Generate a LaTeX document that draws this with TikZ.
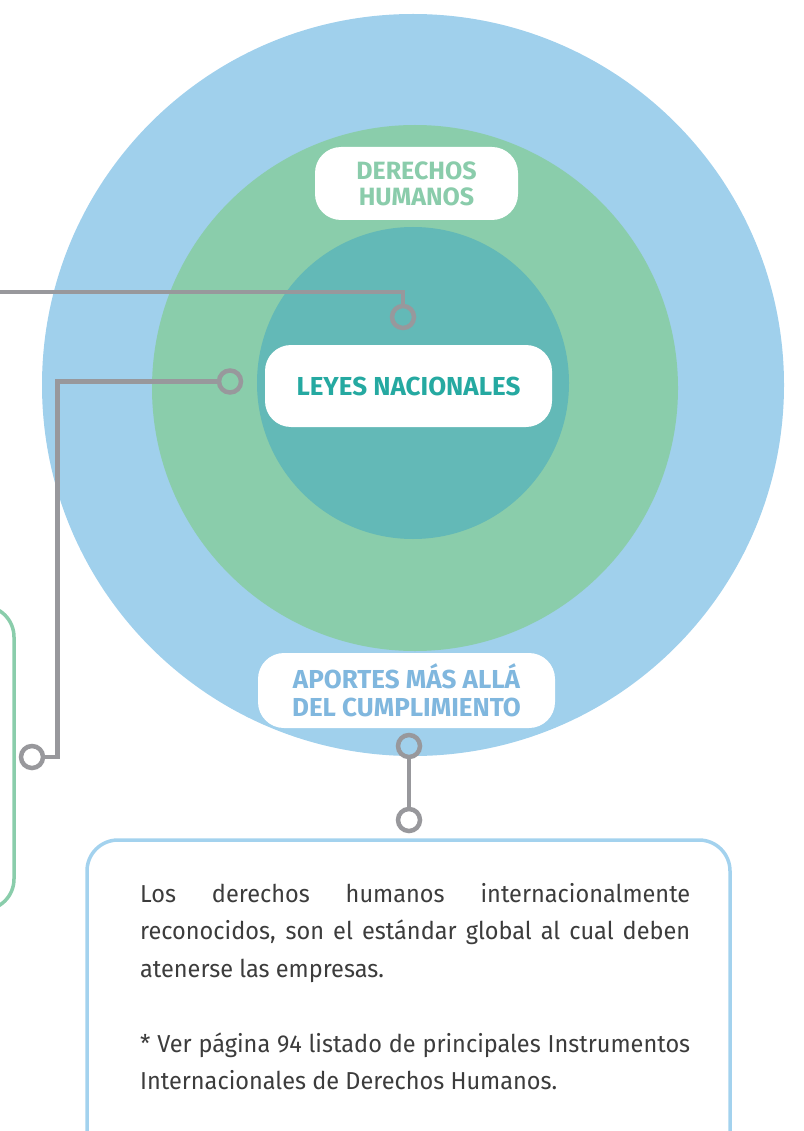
\documentclass[tikz,border=0pt]{standalone}
\usepackage{fontspec}
\setmainfont{Fira Sans}
\newfontfamily\bodyfont{Fira Sans}[FakeStretch=0.96]
\usetikzlibrary{positioning}
\definecolor{outerblue}{HTML}{A0D0EC}
\definecolor{midgreen}{HTML}{8ACDAB}
\definecolor{innerteal}{HTML}{63B9B7}
\definecolor{linegray}{HTML}{98989C}
\definecolor{dhtext}{HTML}{8ACCAB}
\definecolor{lntext}{HTML}{25A9A1}
\definecolor{aptext}{HTML}{80B7DE}
\definecolor{boxblue}{HTML}{A3D2EE}
\definecolor{bodygray}{HTML}{3C3C3C}

\begin{document}
\begin{tikzpicture}[x=1pt,y=-1pt,
  link/.style={draw=linegray,line width=4.5pt},
  ring/.style={circle,draw=linegray,line width=4.5pt,minimum size=22pt,inner sep=0pt},
  tag/.style={fill=white,rounded corners=26pt,align=center,inner sep=0pt,
    font=\bfseries\fontsize{26}{28}\selectfont},
  frame/.style={line width=3.5pt,rounded corners=31pt}]

  \useasboundingbox (0,0) rectangle (803,1131);

  % circles
  \fill[outerblue] (413,385) circle (371pt);
  \fill[midgreen] (415,388) circle (263pt);
  \fill[innerteal] (413,383) circle (156pt);

  % labels
  \node[tag,text=dhtext,minimum width=203pt,minimum height=73pt,
    font=\bfseries\fontsize{25}{26}\selectfont] (dh) at (416.5,183.5)
    {DERECHOS\\HUMANOS};
  \node[tag,text=lntext,minimum width=287pt,minimum height=82pt] (ln) at (408.5,386)
    {LEYES NACIONALES};
  \node[tag,text=aptext,minimum width=297pt,minimum height=75pt] (ap) at (406.5,690.5)
    {APORTES MÁS ALLÁ\\DEL CUMPLIMIENTO};

  % rings
  \node[ring] (r1) at (403,317) {};
  \node[ring] (r2) at (230,381.5) {};
  \node[ring] (r3) at (32,757) {};
  \node[ring] (r4) at (409,746) {};
  \node[ring] (r5) [below=47.5pt of r4] {};

  \coordinate (c1) at (0,292);
  \coordinate (c2) at (57.5,381.5);

  \path[link]
    (c1) -| (r1)
    (r2) -- (c2) |- (r3)
    (r4) -- (r5);

  % boxes
  \draw[frame,midgreen] (-60,606) rectangle (14,910);
  \draw[frame,boxblue] (87,840) rectangle (730,1190);

  \node[anchor=north west,inner sep=0pt,text width=550pt,align=justify,
    text=bodygray,font=\bodyfont\fontsize{24.5}{37.5}\selectfont] (txt) at (140,883)
    {Los derechos humanos internacionalmente\linebreak
     reconocidos, son el estándar global al cual deben\linebreak
     atenerse las empresas.\par\vspace{37.5pt}
     * Ver página 94 listado de principales Instrumentos\linebreak
     Internacionales de Derechos Humanos.};

\end{tikzpicture}
\end{document}
